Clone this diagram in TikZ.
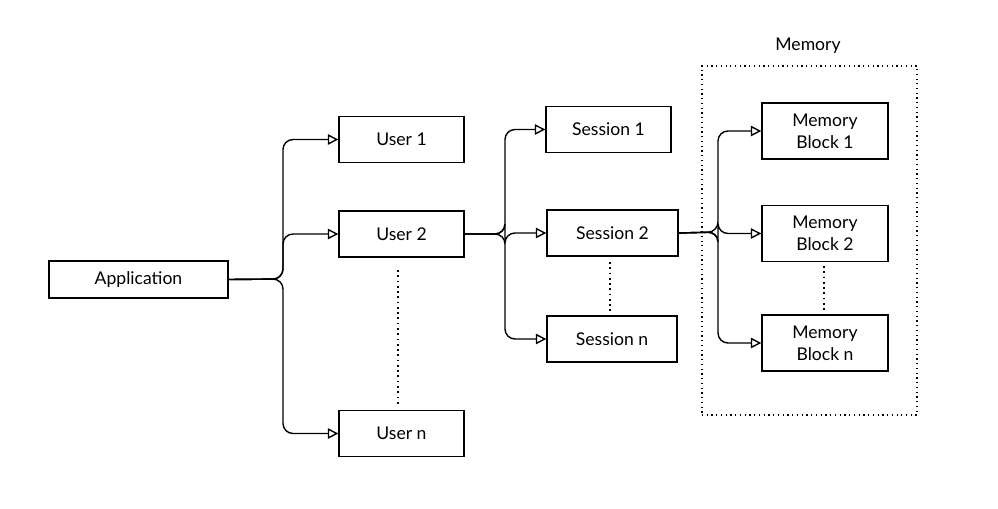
\documentclass[tikz,border=0pt]{standalone}
\usepackage{fontspec}
\setmainfont{Lato}
\usetikzlibrary{arrows.meta}
\begin{document}
\begin{tikzpicture}[x=0.02cm,y=-0.02cm,
  box/.style={draw,line width=0.8pt,inner sep=0pt,font=\fontsize{10}{12.5}\selectfont,align=center},
  conn/.style={line width=0.8pt,rounded corners=0.2cm,-{Triangle[open,length=6pt,width=6pt]}},
  dots/.style={line width=1pt,dotted}]
\useasboundingbox (0,0) rectangle (998,508);
\node[box,minimum width=179*0.02cm,minimum height=37*0.02cm] (app) at (138.5,279.5) {Application};
\foreach \n/\t/\y in {u1/User 1/139.5,u2/User 2/234,un/User n/433.5}
  \node[box,minimum width=125*0.02cm,minimum height=46*0.02cm] (\n) at (401.5,\y) {\t};
\foreach \n/\t/\y/\x/\w in {s1/Session 1/129.5/608.5/125,s2/Session 2/233/612.5/131,sn/Session n/339/612/130}
  \node[box,minimum width=\w*0.02cm,minimum height=46*0.02cm] (\n) at (\x,\y) {\t};
\foreach \n/\t/\y in {m1/{Memory\\Block 1}/131,m2/{Memory\\Block 2}/233.5,mn/{Memory\\Block n}/343}
  \node[box,minimum width=126*0.02cm,minimum height=56*0.02cm] (\n) at (825,\y) {\t};
\node[draw,dotted,line width=0.7pt,minimum width=215*0.02cm,minimum height=349*0.02cm,inner sep=0pt] (mem) at (809.5,240.5) {};
\node[font=\fontsize{10}{12}\selectfont] (memlbl) at (808,46) {Memory};
\coordinate (a1) at (283,279);
\foreach \t in {u1,u2,un} \draw[conn] (app.east) -- (a1) |- (\t.west);
\coordinate (b1) at (505,234);
\foreach \t in {s1,s2,sn} \draw[conn] (u2.east) -- (b1) |- (\t.west);
\coordinate (c1) at (718,232);
\foreach \t in {m1,m2,mn} \draw[conn] (s2.east) -- (c1) |- (\t.west);
\draw[dots] (398,270) -- (398,405);
\draw[dots] (610,262) -- (610,312);
\draw[dots] (824,266) -- (824,312);
\end{tikzpicture}
\end{document}
